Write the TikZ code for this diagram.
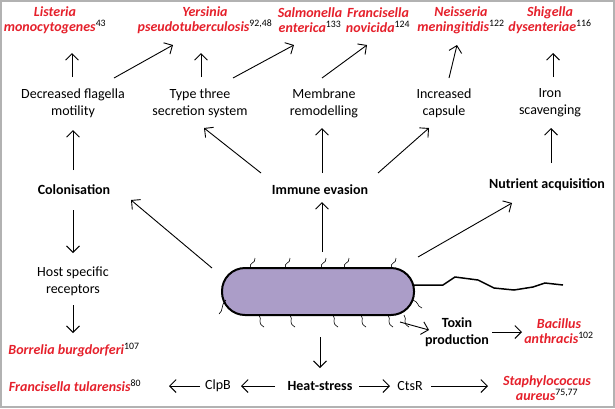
\documentclass[tikz,border=0pt]{standalone}
\usepackage{fontspec}
\setmainfont{Carlito}
\usetikzlibrary{arrows.meta}
\definecolor{bugred}{HTML}{E5202B}
\definecolor{cellfill}{HTML}{AB9DC8}
\newcommand{\refs}[1]{\textsuperscript{\normalfont\color{black}#1}}

\begin{document}
\begin{tikzpicture}[x=1pt, y=-1pt,
    every node/.style={font=\fontsize{14}{17}\selectfont, align=center, inner sep=1pt},
    bug/.style={text=bugred, font=\fontsize{14}{15}\selectfont\bfseries\itshape},
    trait/.style={},
    hub/.style={font=\fontsize{14}{17}\selectfont\bfseries},
    arrow/.style={line width=0.9pt, -{Straight Barb[length=6.5pt,width=13pt]}},
    pilus/.style={line width=0.6pt},
]
\useasboundingbox (0,0) rectangle (615,408);
\draw[gray!60, line width=2pt] (1,1) rectangle (614,407);

% Species
\node[bug] (lis) at (55,20) {Listeria\\monocytogenes\refs{43}};
\node[bug] (yer) at (205,20) {Yersinia\\pseudotuberculosis\refs{92,48}};
\node[bug] (sal) at (310,20) {Salmonella\\enterica\refs{133}};
\node[bug] (fra) at (378,20) {Francisella\\novicida\refs{124}};
\node[bug] (nei) at (461,20) {Neisseria\\meningitidis\refs{122}};
\node[bug] (shi) at (550,20) {Shigella\\dysenteriae\refs{116}};

% Traits
\node[trait] (flag) at (73,103) {Decreased flagella\\motility};
\node[trait] (tts) at (200,103) {Type three\\secretion system};
\node[trait] (mem) at (324,103) {Membrane\\remodelling};
\node[trait] (cap) at (444,103) {Increased\\capsule};
\node[trait] (iron) at (550,103) {Iron\\scavenging};

% Main functions
\node[hub] (col) at (74,190) {Colonisation};
\node[hub] (imm) at (320,190) {Immune evasion};
\node[hub] (nut) at (547,185) {Nutrient acquisition};
\node[trait] (host) at (73,281) {Host specific\\receptors};
\node[bug] (bor) at (74,350) {Borrelia burgdorferi\refs{107}};
\node[hub] (tox) at (457,332) {Toxin\\production};
\node[bug] (bac) at (559,331) {Bacillus\\anthracis\refs{102}};
\node[hub] (heat) at (320,386) {Heat-stress};
\node[trait] (clpb) at (218,386) {ClpB};
\node[trait] (ctsr) at (410,386) {CtsR};
\node[bug] (ftu) at (75,386) {Francisella tularensis\refs{80}};
\node[bug] (sta) at (547,388) {Staphylococcus\\aureus\refs{75,77}};

% Bacterium
\draw[line width=1.5pt] (414,285) -- (443,285) -- (455,277) -- (478,280) -- (494,288)
    -- (514,290) -- (533,287) -- (545,283) -- (563,285);
\node[draw, line width=2pt, fill=cellfill, rounded corners=23pt, minimum width=192pt,
    minimum height=47pt] (cell) at (318,291.5) {};
\foreach \px in {251,286,322,345,392}
    \draw[pilus] (\px,268) .. controls (\px-3,262) and (\px+5,264) .. (\px+4,258);
\foreach \px in {259,290,333,361,388,404}
    \draw[pilus] (\px,315) .. controls (\px+4,320) and (\px-3,322) .. (\px+5,327);
\draw[pilus] (226,300) .. controls (220,306) and (224,310) .. (219,314);
\draw[pilus] (412,300) .. controls (420,302) and (416,306) .. (422,308);

% Upper arrows
\draw[arrow] ([xshift=-1pt,yshift=26pt]flag.center) -- ([xshift=17pt,yshift=-33pt]lis.center);
\draw[arrow] ([xshift=41pt,yshift=25pt]flag.center) -- ([xshift=-32pt,yshift=-25pt]yer.center);
\draw[arrow] ([xshift=1pt,yshift=26pt]tts.center) -- ([xshift=-4pt,yshift=-33pt]yer.center);
\draw[arrow] ([xshift=33pt,yshift=25pt]tts.center) -- ([xshift=-16pt,yshift=-25pt]sal.center);
\draw[arrow] ([xshift=-2pt,yshift=25pt]mem.center) -- ([xshift=-11pt,yshift=-25pt]fra.center);
\draw[arrow] ([xshift=5pt,yshift=25pt]cap.center) -- ([xshift=-4pt,yshift=-25pt]nei.center);
\draw[arrow] ([xshift=3pt,yshift=26pt]iron.center) -- ([xshift=3pt,yshift=-33pt]shi.center);

% Middle arrows
\draw[arrow] ([xshift=-1pt,yshift=20pt]col.center) -- ([yshift=-27pt]flag.center);
\draw[arrow] ([xshift=-59pt,yshift=17pt]imm.center) -- ([xshift=4pt,yshift=-25pt]tts.center);
\draw[arrow] ([xshift=2pt,yshift=17pt]imm.center) -- ([xshift=-2pt,yshift=-25pt]mem.center);
\draw[arrow] ([xshift=58pt,yshift=17pt]imm.center) -- ([xshift=-15pt,yshift=-25pt]cap.center);
\draw[arrow] ([xshift=4pt,yshift=22pt]nut.center) -- ([xshift=1pt,yshift=-25pt]iron.center);

% Arrows from the cell
\draw[arrow] ([xshift=-106pt,yshift=23.5pt]cell.center) -- ([xshift=57pt,yshift=-10pt]col.center);
\draw[arrow] ([xshift=4pt,yshift=39.5pt]cell.center) -- ([xshift=2pt,yshift=-12pt]imm.center);
\draw[arrow] ([xshift=100pt,yshift=34.5pt]cell.center) -- ([xshift=-35pt,yshift=-18pt]nut.center);
\draw[arrow] ([xshift=82pt,yshift=-30.5pt]cell.center) -- ([xshift=-28pt,yshift=2pt]tox.center);
\draw[arrow] ([xshift=2pt,yshift=-45.5pt]cell.center) -- ([yshift=18pt]heat.center);

% Lower arrows
\draw[arrow] ([xshift=-1pt,yshift=-20pt]col.center) -- ([yshift=28pt]host.center);
\draw[arrow] ([yshift=-24pt]host.center) -- ([xshift=-1pt,yshift=17pt]bor.center);
\draw[arrow] ([xshift=35pt]tox.center) -- ([xshift=-37pt,yshift=-1pt]bac.center);
\draw[arrow] ([xshift=-45pt]heat.center) -- ([xshift=23pt]clpb.center);
\draw[arrow] ([xshift=-18pt]clpb.center) -- ([xshift=94pt]ftu.center);
\draw[arrow] ([xshift=39pt]heat.center) -- ([xshift=-20pt]ctsr.center);
\draw[arrow] ([xshift=21pt]ctsr.center) -- ([xshift=-59pt,yshift=2pt]sta.center);
\end{tikzpicture}
\end{document}
